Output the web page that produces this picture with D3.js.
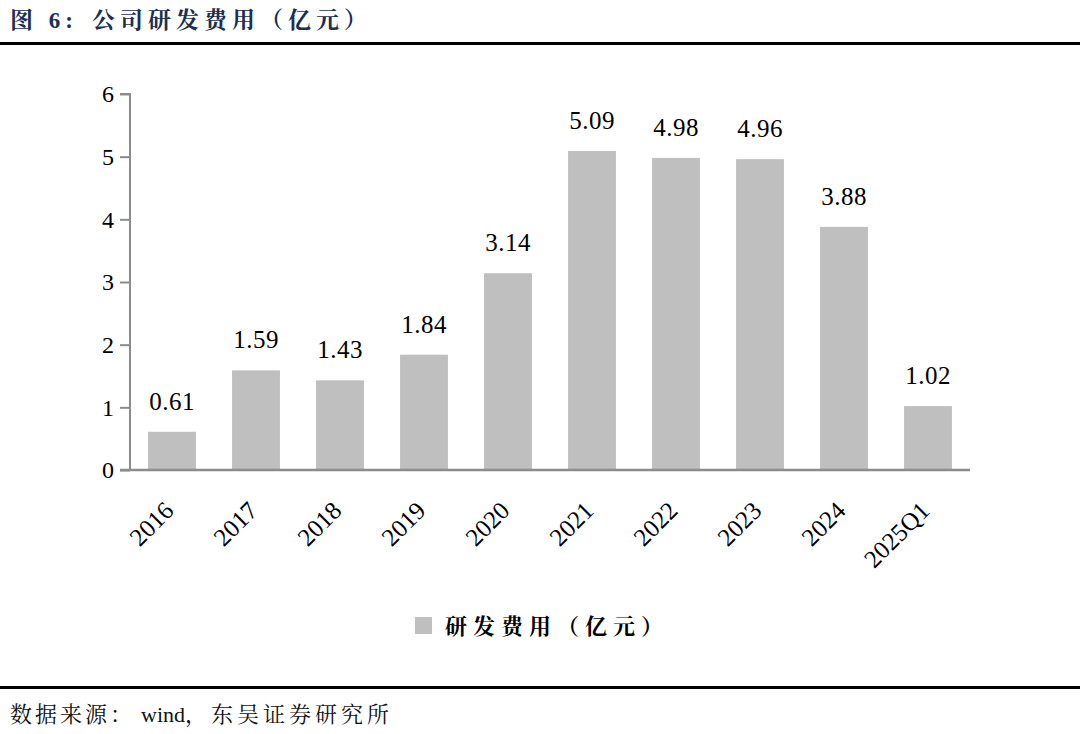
<!DOCTYPE html>
<html>
<head>
<meta charset="utf-8">
<script src="https://cdn.jsdelivr.net/npm/d3@7"></script>
<style>
  body { margin: 0; background: #fff; }
  svg { display: block; }
</style>
</head>
<body>
<div id="chart"></div>
<script>
var years = ["2016", "2017", "2018", "2019", "2020", "2021", "2022", "2023", "2024", "2025Q1"];
var rdCost = [0.61, 1.59, 1.43, 1.84, 3.14, 5.09, 4.98, 4.96, 3.88, 1.02];
var yTicks = [0, 1, 2, 3, 4, 5, 6];

var svgWidth = 1080;
var svgHeight = 734;

var serif = "'Liberation Serif', 'Times New Roman', 'Noto Serif CJK SC', 'Noto Sans CJK SC', serif";

var svg = d3.select("#chart")
  .append("svg")
  .attr("width", svgWidth)
  .attr("height", svgHeight);

// title + rules
var title = svg.append("text")
  .attr("x", 10)
  .attr("y", 28)
  .style("font-family", serif)
  .style("font-size", "23px")
  .style("font-weight", "bold")
  .style("fill", "#1c2f52");
title.append("tspan").style("letter-spacing", "5px").text("图 6:");
title.append("tspan").attr("dx", 14).style("letter-spacing", "5px").text("公司研发费用（亿元）");

svg.append("rect").attr("x", 0).attr("y", 42).attr("width", svgWidth).attr("height", 3).attr("fill", "#000");
svg.append("rect").attr("x", 0).attr("y", 686).attr("width", svgWidth).attr("height", 3).attr("fill", "#000");

var source = svg.append("text")
  .attr("x", 10)
  .attr("y", 722)
  .style("font-family", serif)
  .style("font-size", "22px")
  .style("fill", "#111");
source.append("tspan").style("letter-spacing", "3px").text("数据来源：");
source.append("tspan").attr("dx", 6).text("wind");
source.append("tspan").style("letter-spacing", "4px").text("，东吴证券研究所");

// plot area
var plotLeft = 130, plotRight = 970, plotTop = 94, plotBottom = 470;

var xScale = d3.scaleBand()
  .domain(years)
  .range([plotLeft, plotRight])
  .paddingInner(0.43)
  .paddingOuter(0.215);

var yScale = d3.scaleLinear()
  .domain([0, 6])
  .range([plotBottom, plotTop]);

var chartGroup = svg.append("g");

chartGroup.selectAll("rect.bar")
  .data(rdCost)
  .enter()
  .append("rect")
  .attr("class", "bar")
  .attr("x", (d, i) => xScale(years[i]))
  .attr("y", d => yScale(d))
  .attr("width", xScale.bandwidth())
  .attr("height", d => yScale(0) - yScale(d))
  .attr("fill", "#bfbfbf");

chartGroup.selectAll("text.val")
  .data(rdCost)
  .enter()
  .append("text")
  .attr("class", "val")
  .attr("x", (d, i) => xScale(years[i]) + xScale.bandwidth() / 2)
  .attr("y", d => yScale(d) - 22)
  .attr("text-anchor", "middle")
  .style("font-family", serif)
  .style("font-size", "25px")
  .style("letter-spacing", "0.5px")
  .style("fill", "#000")
  .text(d => d.toFixed(2));

// y axis
var leftAxis = d3.axisLeft(yScale).tickValues(yTicks).tickSize(10).tickPadding(6).tickFormat(d3.format("d"));
var y_axis = svg.append("g")
  .attr("transform", `translate(${plotLeft}, 0)`)
  .call(leftAxis);
y_axis.select(".domain").attr("stroke", "#8c8c8c").attr("stroke-width", 2).attr("d", `M-10,${plotTop}H0V${plotBottom}`);
y_axis.selectAll(".tick line").attr("stroke", "#8c8c8c").attr("stroke-width", 2);
y_axis.selectAll(".tick text")
  .style("font-family", serif)
  .style("font-size", "24px")
  .style("fill", "#000");

// x axis
svg.append("line")
  .attr("x1", plotLeft - 10).attr("x2", plotRight)
  .attr("y1", plotBottom).attr("y2", plotBottom)
  .attr("stroke", "#8c8c8c")
  .attr("stroke-width", 2.5);

svg.selectAll("text.xlab")
  .data(years)
  .enter()
  .append("text")
  .attr("class", "xlab")
  .attr("transform", d => `translate(${xScale(d) + xScale.bandwidth() / 2 - 3}, ${plotBottom + 36}) rotate(-45)`)
  .attr("text-anchor", "end")
  .attr("dy", "0.35em")
  .style("font-family", serif)
  .style("font-size", "25px")
  .style("fill", "#000")
  .text(d => d);

// legend
var legend = svg.append("g").attr("transform", "translate(415, 617)");
legend.append("rect").attr("width", 17).attr("height", 17).attr("fill", "#bfbfbf");
legend.append("text")
  .attr("x", 30)
  .attr("y", 9)
  .attr("dy", "0.38em")
  .style("font-family", serif)
  .style("font-size", "22px")
  .style("font-weight", "bold")
  .style("letter-spacing", "6px")
  .style("fill", "#000")
  .text("研发费用（亿元）");
</script>
</body>
</html>
